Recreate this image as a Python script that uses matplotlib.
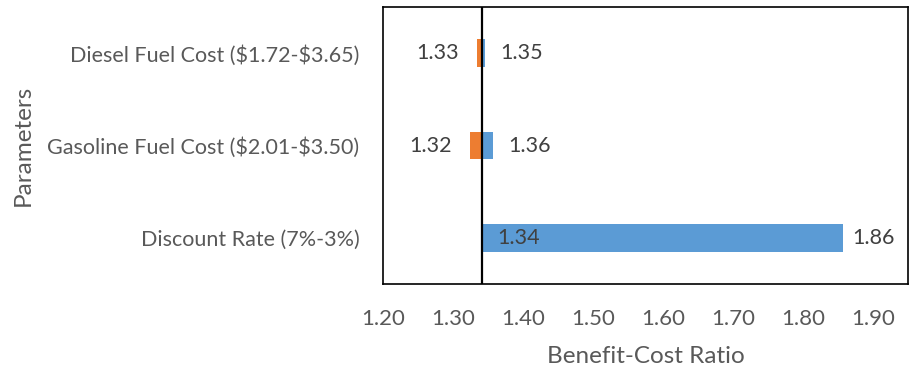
import matplotlib
matplotlib.use("Agg")
import matplotlib.pyplot as plt

plt.rcParams['font.family'] = ['Lato', 'DejaVu Sans']
plt.rcParams['text.parse_math'] = False

# Sensitivity of the benefit-cost ratio to each parameter
parameters = ["Discount Rate (7%-3%)",
              "Gasoline Fuel Cost ($2.01-$3.50)",
              "Diesel Fuel Cost ($1.72-$3.65)"]
base_ratio = 1.341
low_values = [1.341, 1.324, 1.334]
high_values = [1.857, 1.357, 1.346]
x_ticks = [1.20, 1.30, 1.40, 1.50, 1.60, 1.70, 1.80, 1.90]

ORANGE = "#ED7D31"
BLUE = "#5B9BD5"
TICK_GRAY = "#595959"
LABEL_DARK = "#404040"
FS = 15.5

fig = plt.figure(figsize=(9.15, 3.71), dpi=100)
ax = fig.add_axes([383 / 915, 87 / 371, 525 / 915, 277 / 371])

ypos = list(range(len(parameters)))
bar_h = 0.30

for y, lo, hi in zip(ypos, low_values, high_values):
    ax.barh(y, lo - base_ratio, left=base_ratio, height=bar_h, color=ORANGE)
    ax.barh(y, hi - base_ratio, left=base_ratio, height=bar_h, color=BLUE)
    # value labels at both ends of each range
    if lo < base_ratio:
        ax.annotate(f"{lo:.2f}", (lo, y), xytext=(-13, 0), textcoords="offset points",
                    ha="right", va="center", fontsize=FS, color=LABEL_DARK)
    else:
        ax.annotate(f"{lo:.2f}", (lo, y), xytext=(11, 0), textcoords="offset points",
                    ha="left", va="center", fontsize=FS, color=LABEL_DARK)
    ax.annotate(f"{hi:.2f}", (hi, y), xytext=(7 if hi - base_ratio > 0.1 else 11, 0),
                textcoords="offset points", ha="left", va="center",
                fontsize=FS, color=LABEL_DARK)

ax.axvline(base_ratio, color="black", linewidth=1.6, zorder=5)

ax.set_xlim(1.20, 1.95)
ax.set_ylim(-0.5, len(parameters) - 0.5)
ax.set_xticks(x_ticks)
ax.set_xticklabels([f"{t:.2f}" for t in x_ticks])
ax.set_yticks(ypos)
ax.set_yticklabels(parameters)
ax.tick_params(axis="x", length=0, pad=18, labelsize=FS + 0.5, labelcolor=TICK_GRAY)
ax.tick_params(axis="y", length=0, pad=17, labelsize=FS, labelcolor=TICK_GRAY)

for spine in ax.spines.values():
    spine.set_color("black")
    spine.set_linewidth(1.2)

ax.set_xlabel("Benefit-Cost Ratio", fontsize=17.5, color=TICK_GRAY, labelpad=12)
ax.set_ylabel("Parameters", fontsize=17.5, color=TICK_GRAY, labelpad=10)

fig.savefig("out.png", dpi=100)
